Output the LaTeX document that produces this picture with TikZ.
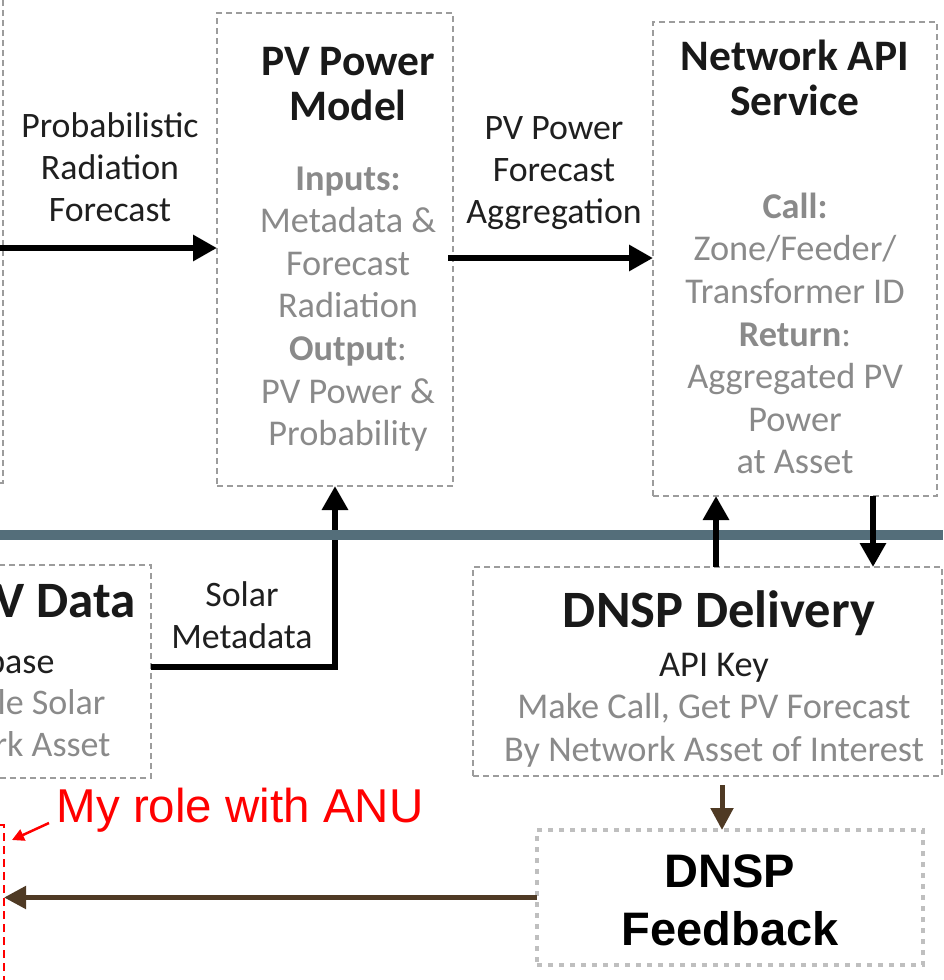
\documentclass[tikz,border=0pt]{standalone}
\usepackage{fontspec}
\setmainfont{Carlito}
\newfontfamily\arialfont{Liberation Sans}
\usetikzlibrary{arrows.meta}
\definecolor{boxgray}{HTML}{9C9C9C}
\definecolor{bodygray}{HTML}{8A8A8A}
\definecolor{dotgray}{HTML}{BFBFBF}
\definecolor{splitblue}{HTML}{546E7A}
\definecolor{fbbrown}{HTML}{4F3A24}
\newcommand{\fsz}[2]{\fontsize{#1}{#2}\selectfont}

\begin{document}
\begin{tikzpicture}[x=1pt,y=-1pt,
    dbox/.style={draw=boxgray,line width=1.2pt,dash pattern=on 6pt off 4pt,inner sep=0pt,outer sep=0pt},
    fbbox/.style={draw=dotgray,line width=4.5pt,dash pattern=on 5pt off 6pt,inner sep=0pt,outer sep=0pt},
    rolebox/.style={draw=red,line width=2pt,dash pattern=on 8pt off 5pt,inner sep=0pt,outer sep=0pt},
    title/.style={align=center,font=\fsz{43.5}{45}\bfseries,text=black!90},
    body/.style={align=center,font=\fsz{36.3}{42.6},text=bodygray},
    lbl/.style={align=center,font=\fsz{35.8}{41.8},text=black!88},
    bigarrow/.style={line width=6pt,-{Triangle[length=24pt,width=25pt]}},
    brownarrow/.style={draw=fbbrown,line width=5pt,-{Triangle[length=22pt,width=22pt]},fbbrown}]
    \useasboundingbox (0,0) rectangle (943,980);
    \clip (0,0) rectangle (943,980);

    % --- TOP ROW ---
    \node[dbox,minimum width=303pt,minimum height=503pt] (fcst) at (-148.5,231.5) {};
    \node[dbox,minimum width=236pt,minimum height=473pt] (pvm) at (335,249.5) {};
    \node[title] (pvmtitle) at (348,84.5) {PV Power\\Model};
    \node[body] (pvmbody) at (348,309) {\textbf{Inputs:}\\Metadata \&\\Forecast\\Radiation\\\textbf{Output}:\\PV Power \&\\Probability};
    \node[dbox,minimum width=284pt,minimum height=474pt] (net) at (795,259) {};
    \node[title] (nettitle) at (795,77.5) {Network API\\Service};
    \node[body] (netbody) at (795,333.5) {\textbf{Call:}\\Zone/Feeder/\\Transformer ID\\\textbf{Return}:\\Aggregated PV\\Power\\at Asset};

    \coordinate (radsrc) at (0,248);
    \coordinate (aggy) at (0,258);
    \draw[bigarrow] (radsrc) -- (radsrc -| pvm.west);
    \draw[bigarrow] ([xshift=-5pt]pvm.east |- aggy) -- (net.west |- aggy);
    \node[lbl] (radlbl) at (110,167) {Probabilistic\\Radiation\\Forecast};
    \node[lbl] (agglbl) at (554,173) {PV Power\\Forecast\\Aggregation};

    % --- BOTTOM ROW ---
    \node[dbox,minimum width=351pt,minimum height=213pt] (pvd) at (-24.5,671.5) {};
    \node[anchor=east,font=\fsz{51}{51}\bfseries,text=black!90] (pvdtitle) at (139,601) {PV Data};
    \node[anchor=east,font=\fsz{36}{36},text=black!88] (pvdline1) at (58,661) {base};
    \node[anchor=east,font=\fsz{36}{36},text=bodygray] (pvdline2) at (109,702) {le Solar};
    \node[anchor=east,font=\fsz{36}{36},text=bodygray] (pvdline3) at (114,744) {rk Asset};
    \coordinate (solary) at (0,667);
    \draw[bigarrow] (pvd.east |- solary) -| (pvm.south);
    \node[lbl] (solarlbl) at (242,615) {Solar\\Metadata};

    % --- DIVIDER ---
    \draw[splitblue,line width=10pt] (0,535) -- (943,535);

    \node[dbox,minimum width=469pt,minimum height=209pt] (dnsp) at (707.5,671.5) {};
    \node[font=\fsz{52.5}{52}\bfseries,text=black!90] (dnsptitle) at (719,613) {DNSP Delivery};
    \node[body] (dnspbody) at (714,710) {\textcolor{black!88}{API Key}\\Make Call, Get PV Forecast\\By Network Asset of Interest};
    \coordinate (upx) at (716,0);
    \coordinate (dnx) at (873,0);
    \draw[bigarrow] (dnsp.north -| upx) -- (net.south -| upx);
    \draw[bigarrow] (net.south -| dnx) -- (dnsp.north -| dnx);

    % --- FEEDBACK ---
    \node[fbbox,minimum width=386pt,minimum height=135pt] (fb) at (730,897.5) {};
    \node[align=center,font=\arialfont\fsz{47}{58}\bfseries] (fbtext) at (730,900) {DNSP\\Feedback};
    \node[rolebox,minimum width=208pt,minimum height=250pt] (role) at (-100,950) {};
    \coordinate (fbx) at (722,0);
    \draw[brownarrow,shorten <=9pt] (dnsp.south -| fbx) -- (fb.north -| fbx);
    \draw[brownarrow] (fb.west) -- (role.east |- fb.west);
    \node[font=\arialfont\fsz{47.5}{47},text=red] (roletext) at (240,810) {My role with ANU};
    \coordinate (roletail) at (49,823);
    \coordinate (roletip) at (12,840);
    \draw[red,line width=2.5pt,-{Triangle[length=12pt,width=12pt]}] (roletail) -- (roletip);
\end{tikzpicture}
\end{document}
